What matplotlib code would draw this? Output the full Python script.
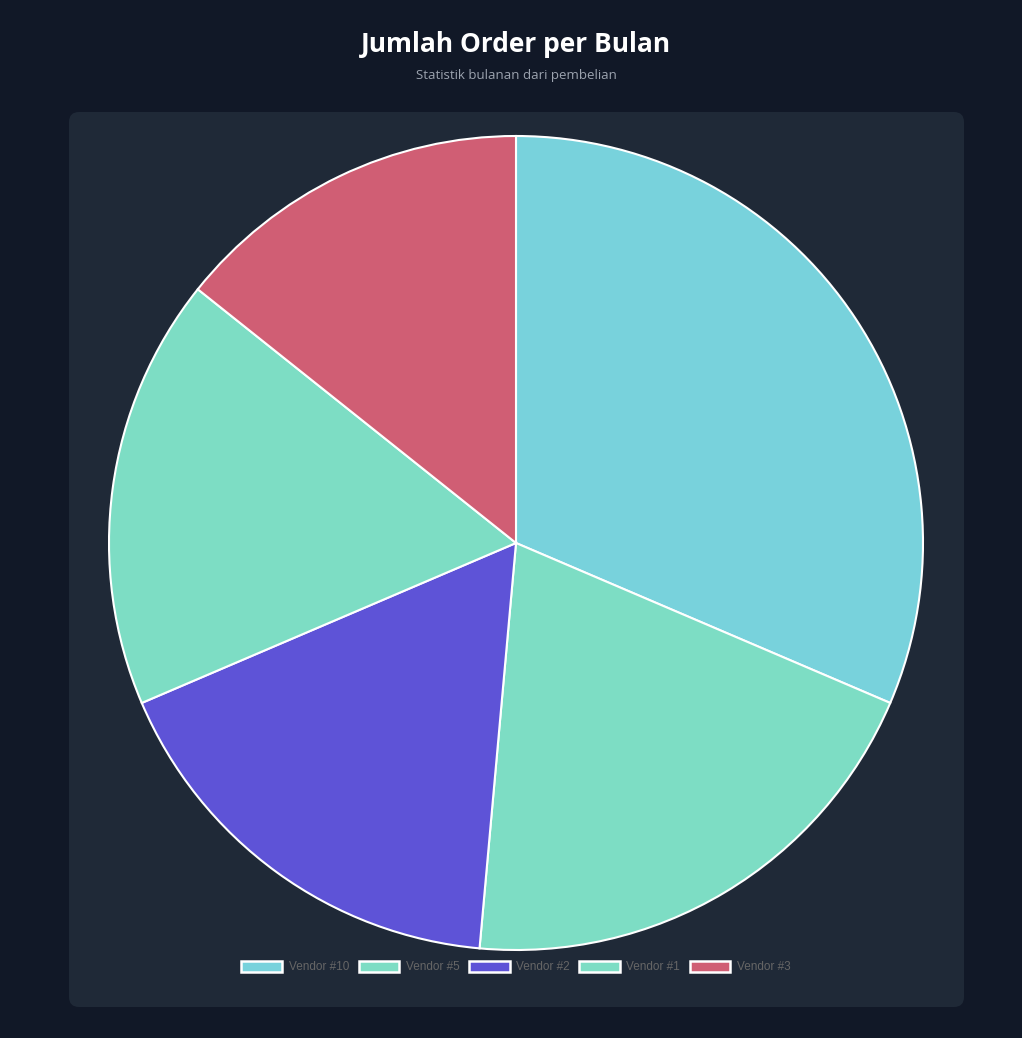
import matplotlib
matplotlib.use('Agg')
import matplotlib.pyplot as plt
from matplotlib.patches import FancyBboxPatch, Patch

# data
vendors = ['Vendor #10', 'Vendor #5', 'Vendor #2', 'Vendor #1', 'Vendor #3']
orders = [22, 14, 12, 12, 10]
colors = ['#78D2DC', '#7DDDC4', '#5E53D7', '#7DDDC4', '#D05E74']

title = 'Jumlah Order per Bulan'
subtitle = 'Statistik bulanan dari pembelian'

W, H = 1022, 1038
fig = plt.figure(figsize=(W / 100, H / 100), dpi=100, facecolor='#111827')

# background axes in pixel coordinates for the card
bg = fig.add_axes([0, 0, 1, 1])
bg.set_xlim(0, W)
bg.set_ylim(H, 0)
bg.axis('off')
card = FancyBboxPatch((69, 112), 895, 895, boxstyle='round,pad=0,rounding_size=10',
                      facecolor='#1F2937', edgecolor='none')
bg.add_patch(card)

# centre of the card / pie
cx, cy, r = 516, 543, 407

bg.text(cx, 45, title, ha='center', va='center', fontsize=19, fontweight='bold',
        color='white', family='Open Sans')
bg.text(cx, 75, subtitle, ha='center', va='center', fontsize=9.5,
        color='#9CA3AF', family='Open Sans')

# pie axes: centre (516, 543), radius 407 px
ax = fig.add_axes([(cx - r) / W, (H - cy - r) / H, 2 * r / W, 2 * r / H])
wedges, _ = ax.pie(orders, colors=colors, startangle=90, counterclock=False,
                   wedgeprops=dict(edgecolor='white', linewidth=1.5))
for w in wedges:
    w.set_clip_on(False)
ax.set_xlim(-1, 1)
ax.set_ylim(-1, 1)
ax.set_aspect('auto')
ax.axis('off')

handles = [Patch(facecolor=c, edgecolor='white', linewidth=1.8, label=v)
           for v, c in zip(vendors, colors)]
leg = fig.legend(handles=handles, loc='center', bbox_to_anchor=(cx / W, 1 - 967 / H),
                 ncol=5, frameon=False, handlelength=3.45, handleheight=1.15,
                 handletextpad=0.55, columnspacing=0.8, borderpad=0,
                 prop=dict(family='Liberation Sans', size=8.5))
for t in leg.get_texts():
    t.set_color('#666666')

fig.savefig('out.png', dpi=100, facecolor=fig.get_facecolor())
